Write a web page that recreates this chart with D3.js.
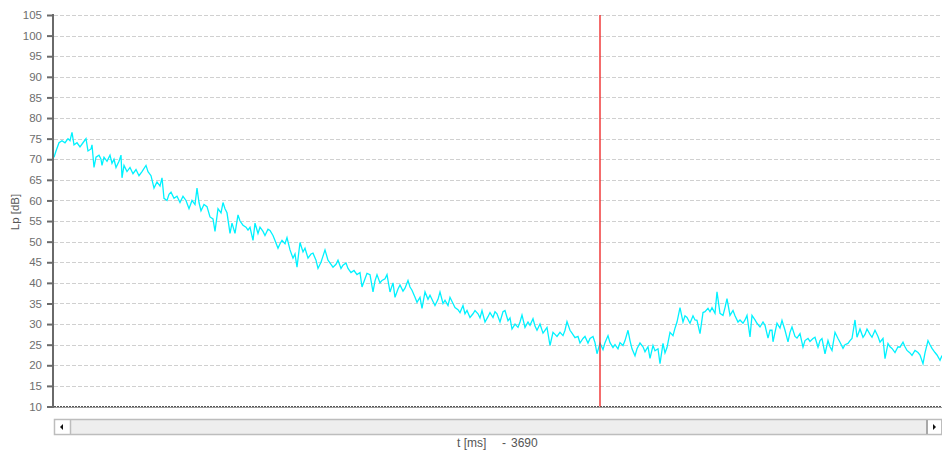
<!DOCTYPE html>
<html>
<head>
<meta charset="utf-8">
<script src="https://cdn.jsdelivr.net/npm/d3@7"></script>
<style>
  body { margin: 0; background: #fff; }
  svg { display: block; font-family: "Liberation Sans", Arial, sans-serif; }
</style>
</head>
<body>
<svg id="chart" width="942" height="455"></svg>
<script>
// Sound pressure level decay trace (time in ms, level in dB)
const timeMs = [
  3144,3146,3149,3152,3155,3158,3160,3162,3164,3167,
  3170,3173,3176,3178,3181,3182,3184,3186,3189,3191,
  3192,3194,3197,3200,3202,3204,3206,3209,3211,3212,
  3214,3217,3220,3223,3226,3229,3232,3236,3238,3241,
  3244,3247,3250,3252,3254,3257,3259,3261,3264,3267,
  3270,3273,3276,3279,3282,3285,3287,3289,3291,3294,
  3297,3300,3303,3305,3308,3311,3313,3315,3317,3320,
  3322,3325,3328,3330,3333,3336,3338,3340,3343,3345,
  3348,3350,3353,3355,3358,3360,3363,3365,3368,3370,
  3372,3375,3377,3380,3383,3385,3387,3390,3393,3395,
  3398,3401,3403,3406,3408,3411,3413,3415,3418,3421,
  3423,3426,3428,3431,3433,3436,3438,3441,3444,3447,
  3450,3452,3455,3457,3460,3463,3465,3467,3470,3472,
  3475,3477,3480,3483,3485,3488,3490,3493,3495,3498,
  3500,3502,3505,3507,3510,3512,3515,3518,3520,3523,
  3525,3528,3530,3533,3535,3538,3540,3543,3545,3548,
  3550,3553,3555,3557,3560,3563,3565,3568,3570,3572,
  3575,3578,3580,3583,3585,3587,3590,3593,3595,3598,
  3600,3602,3605,3608,3610,3612,3615,3618,3620,3623,
  3625,3627,3630,3633,3635,3637,3640,3643,3645,3647,
  3650,3653,3655,3657,3660,3662,3665,3668,3670,3673,
  3675,3678,3680,3683,3685,3687,3690,3693,3695,3698,
  3700,3703,3705,3708,3710,3713,3715,3718,3720,3722,
  3725,3727,3730,3733,3735,3738,3740,3743,3745,3748,
  3750,3753,3755,3757,3760,3763,3765,3767,3770,3773,
  3775,3777,3780,3783,3785,3787,3790,3793,3795,3798,
  3800,3802,3805,3807,3810,3813,3815,3817,3820,3823,
  3825,3828,3830,3833,3835,3837,3840,3842,3845,3847,
  3850,3853,3855,3858,3860,3862,3863,3865,3867,3870,
  3872,3875,3878,3880,3882,3885,3887,3890,3893,3895,
  3898,3900,3903,3905,3908,3910,3912,3915,3918,3920,
  3922,3925,3928,3930,3933,3935,3938,3940,3942,3945,
  3947,3950,3953,3955,3957,3960,3962,3965,3968,3970,
  3973,3975,3978,3980,3982,3985,3988,3990,3993,3995,
  3997,4000,4002,4005,4008,4010,4013,4015,4018,4020,
  4022,4025,4027,4030,4032
];

const levelDb = [
  70.5,72,74,74.5,74,75,74.5,76.5,73.5,74,
  73,74,75,72,72.5,73.5,68,70.5,71,70,
  68.5,70.5,69.5,71,69,70,68,69.5,71,65.5,
  68.5,67,68,66.5,67.5,66,67,68.5,67,66,
  63,64.5,63.5,65.5,60.5,60,61.5,62,60.5,61,
  59.5,61,60,58,60,59,63,59.5,57.5,59,
  58.5,56,55.5,52.5,58,57,59.5,58,57,52,
  54.5,52,56.5,55,54,53.5,52.8,53.5,50.3,54.5,
  52,53.5,52.5,51.5,53,52.7,51.5,50.3,48.4,49.5,
  50.3,49.5,51,48,46,47,43.8,49.8,47.5,48.4,
  46,47,47.2,45.5,43.5,45,46.5,48,45.5,44.5,
  43.8,44.5,45.5,43.5,44.3,44.8,43.5,42.5,43,42,
  42.5,39,41,42.3,42,37.8,40.5,42,40,40.6,
  41,42,37.8,40,36.5,38.5,39.5,38,38.7,40.6,
  39,38.2,36.5,35.3,36.5,33.8,37.8,36,37,35.5,
  34.5,36,37.8,35,35.8,34.5,36.5,35,34,33.5,
  32.8,34.5,32.5,33.3,31.6,32.5,33.3,32.5,31.5,33.3,
  30.5,31.8,32.8,31.6,33,32.5,30.5,33,33.3,30.8,
  31.5,28.8,30,29.2,30.5,32.2,29.2,30.5,29.7,31.3,
  29.5,28.5,30,27.8,28.5,29.2,24.8,28,27.5,27,
  28,27.2,28.5,30.6,28.5,27.8,26.7,27,25.4,26.5,
  27,25.4,26.5,27,25.5,22.8,25.4,23.8,25.5,27.2,
  25.5,24.3,25,24,25.5,24.8,26,28.5,26,24,
  22.3,24,25.4,24.5,23.3,24.5,21.7,24.8,23.5,24,
  20.4,25.3,23,24.3,28,27.2,29,30.5,34,30.5,
  32,31.6,30.2,32,31,30.9,27.7,32.8,33,33.8,
  33,34,32.6,37.8,32.6,32.1,34,36.2,32.1,33.3,
  32,30.5,31,30.2,31,32.1,26.9,32.1,31,30.2,
  29.3,30.5,29.7,26.6,28.5,28.5,25.7,28,30.2,29,
  30.9,28.5,25.7,28,29.3,27,26.6,27.7,24.4,26,
  26.5,25.8,26.5,26.8,24.4,26,26.5,22.8,26,24.5,
  23.6,28,26.5,25.6,24.1,25,25.3,26,26.5,31,
  26.8,28.8,26.8,27.5,28.8,27.5,26.8,28.5,27,25.6,
  26.5,21.6,25.3,24.5,24.1,23.1,24.5,24.4,25.6,24.5,
  23.6,23,22.4,23.6,23.1,22.5,20.4,23,26,25,
  24.1,23.1,22.5,21.2,22.4
];

const yTickValues = [10,15,20,25,30,35,40,45,50,55,60,65,70,75,80,85,90,95,100,105];
const timeWindow = [3144, 4032];
const cursorMs = 3690;
const yAxisTitle = "Lp [dB]";
const xAxisTitle = "t [ms]";

const svg = d3.select("#chart");
const plotLeft = 54, plotRight = 942, plotTop = 15, plotBottom = 406.5;

const x = d3.scaleLinear().domain(timeWindow).range([plotLeft, plotRight]);
const y = d3.scaleLinear().domain([10, 105]).range([plotBottom, plotTop]);

// horizontal dashed grid
svg.append("g")
  .selectAll("line")
  .data(yTickValues.filter(v => v > 10))
  .join("line")
  .attr("x1", plotLeft).attr("x2", plotRight)
  .attr("y1", d => Math.round(y(d)) + 0.5).attr("y2", d => Math.round(y(d)) + 0.5)
  .attr("stroke", "#d0d0d0")
  .attr("stroke-width", 1)
  .attr("stroke-dasharray", "4,2");

// bottom axis: dotted base line plus solid rule
svg.append("line")
  .attr("x1", plotLeft).attr("x2", plotRight)
  .attr("y1", 406.5).attr("y2", 406.5)
  .attr("stroke", "#555").attr("stroke-width", 1)
  .attr("stroke-dasharray", "2,1");
svg.append("line")
  .attr("x1", plotLeft).attr("x2", plotRight)
  .attr("y1", 407.5).attr("y2", 407.5)
  .attr("stroke", "#9a9a9a").attr("stroke-width", 1);

// level trace
const line = d3.line()
  .x((d, i) => x(timeMs[i]))
  .y(d => y(d));
svg.append("path")
  .datum(levelDb)
  .attr("fill", "none")
  .attr("stroke", "#00f2ff")
  .attr("stroke-width", 1.3)
  .attr("stroke-linejoin", "miter")
  .attr("d", line);

// cursor
svg.append("line")
  .attr("x1", x(cursorMs)).attr("x2", x(cursorMs))
  .attr("y1", plotTop).attr("y2", plotBottom)
  .attr("stroke", "#ee1c1c").attr("stroke-width", 1.3);

// y axis
const yAxis = d3.axisLeft(y).tickValues(yTickValues).tickSize(6).tickPadding(5);
const yg = svg.append("g").attr("transform", "translate(53,0)").call(yAxis);
yg.select(".domain").remove();
yg.selectAll(".tick line").attr("stroke", "#6a6a6a").attr("stroke-width", 2);
yg.selectAll(".tick text")
  .attr("fill", "#6e6e6e")
  .style("font-size", "11.5px")
  .style("font-family", "'Liberation Sans', Arial, sans-serif");
svg.append("line")
  .attr("x1", 53).attr("x2", 53)
  .attr("y1", plotTop - 1).attr("y2", 408)
  .attr("stroke", "#6a6a6a").attr("stroke-width", 2);

// y axis title
svg.append("text")
  .attr("transform", "translate(19,212) rotate(-90)")
  .attr("text-anchor", "middle")
  .attr("fill", "#555")
  .style("font-size", "11.5px")
  .text(yAxisTitle);

// horizontal scroll bar
const sb = svg.append("g");
sb.append("rect")
  .attr("x", 54.5).attr("y", 419.5).attr("width", 887).attr("height", 15)
  .attr("fill", "#eeeeee").attr("stroke", "#bdbdbd").attr("stroke-width", 1.5);
sb.append("rect")
  .attr("x", 55.5).attr("y", 420.5).attr("width", 14.5).attr("height", 13)
  .attr("fill", "#ffffff").attr("stroke", "none");
sb.append("line")
  .attr("x1", 70.5).attr("x2", 70.5).attr("y1", 420).attr("y2", 434)
  .attr("stroke", "#bdbdbd").attr("stroke-width", 1.5);
sb.append("rect")
  .attr("x", 927.5).attr("y", 420.5).attr("width", 13.5).attr("height", 13)
  .attr("fill", "#ffffff").attr("stroke", "none");
sb.append("line")
  .attr("x1", 927).attr("x2", 927).attr("y1", 420).attr("y2", 434)
  .attr("stroke", "#a8a8a8").attr("stroke-width", 2);
sb.append("path").attr("d", "M60,427 L63,424 L63,430 Z").attr("fill", "#111");
sb.append("path").attr("d", "M936,427 L933,424 L933,430 Z").attr("fill", "#111");

// x axis title with cursor time
const xt = svg.append("g").attr("fill", "#555").style("font-size", "12px");
xt.append("text").attr("x", 457).attr("y", 447).text(xAxisTitle);
xt.append("text").attr("x", 502).attr("y", 447).text("-");
xt.append("text").attr("x", 511).attr("y", 447).text(String(cursorMs));
</script>
</body>
</html>
